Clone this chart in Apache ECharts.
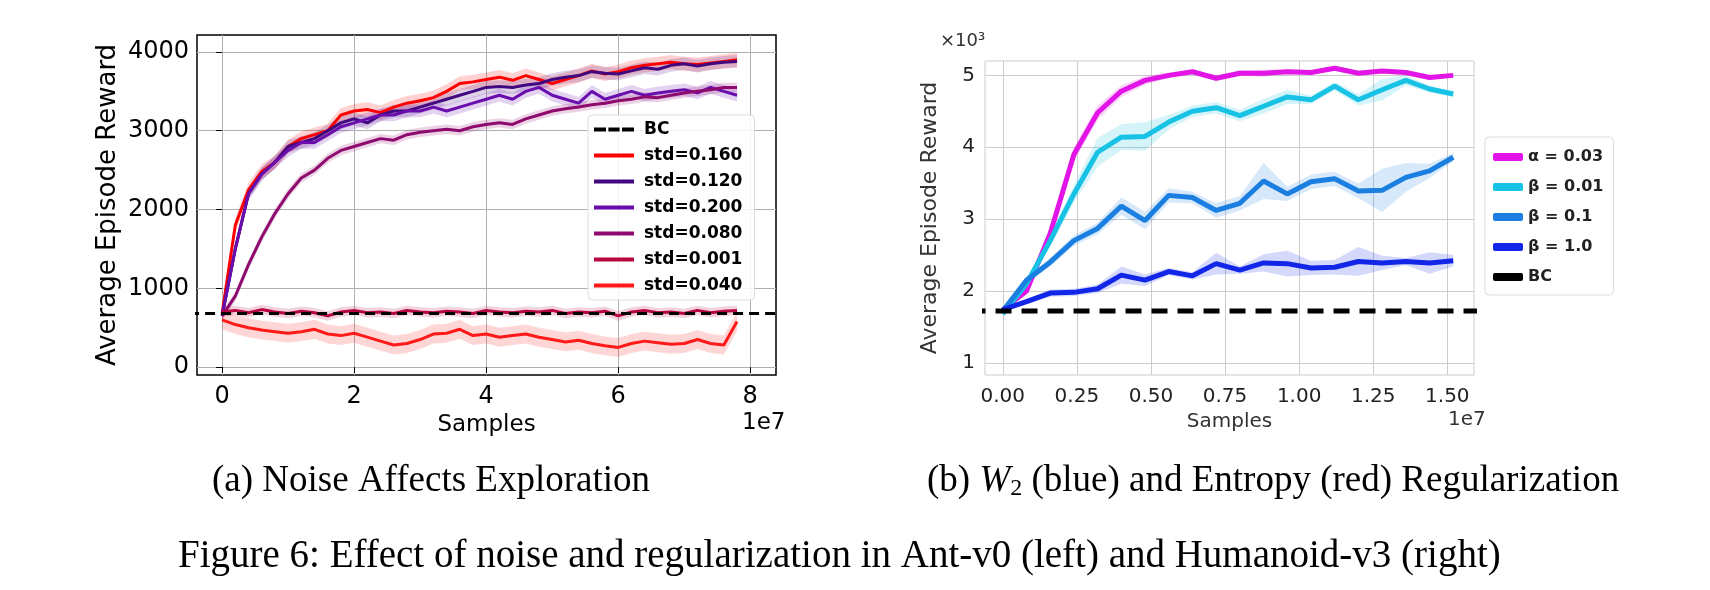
<!DOCTYPE html>
<html><head><meta charset="utf-8">
<script src="https://cdn.jsdelivr.net/npm/echarts@6/dist/echarts.min.js"></script>
<style>html,body{margin:0;padding:0;background:#fff}#c{width:1710px;height:590px}</style>
</head><body><div id="c"></div>
<script>
// ---- Left chart data (Ant-v0), x in units of 1e7, sampled every 0.2 ----
const leftStep = 0.2;
const leftNames = ['std=0.160','std=0.120','std=0.200','std=0.080','std=0.001','std=0.040'];
const leftColors = ['#ff0000','#42087f','#6a0dad','#8e0a6e','#b8063e','#ff1a1a'];
const std160 = [680,1800,2250,2480,2600,2800,2900,2950,3000,3200,3250,3270,3230,3300,3350,3380,3420,3500,3600,3620,3650,3680,3640,3700,3650,3600,3650,3700,3760,3720,3750,3800,3830,3850,3870,3850,3840,3860,3880,3900];
const std120 = [650,1500,2200,2450,2600,2800,2850,2900,3000,3100,3150,3100,3200,3250,3250,3300,3350,3400,3450,3500,3550,3560,3550,3580,3600,3650,3680,3700,3750,3730,3720,3760,3800,3780,3830,3850,3820,3850,3870,3880];
const std200 = [650,1500,2200,2450,2600,2750,2850,2850,2950,3050,3100,3150,3200,3200,3250,3250,3300,3250,3300,3350,3400,3450,3400,3500,3550,3450,3400,3350,3500,3400,3450,3500,3450,3480,3500,3520,3480,3550,3500,3450];
const std080 = [650,900,1300,1650,1950,2200,2400,2500,2650,2750,2800,2850,2900,2880,2950,2980,3000,3020,3000,3050,3080,3100,3080,3150,3200,3250,3280,3300,3330,3350,3380,3400,3430,3420,3450,3480,3500,3520,3550,3550];
const std001 = [700,720,690,730,700,680,710,690,650,700,720,690,700,680,720,700,690,710,700,680,720,700,690,710,700,720,680,700,690,710,650,700,720,690,700,680,720,690,710,720];
const std040 = [600,540,500,470,450,430,450,480,420,400,430,380,330,280,300,350,420,430,480,400,420,380,400,420,380,350,320,340,300,270,250,300,330,310,290,300,350,300,280,580];
const leftSpread = [90,80,80,60,60,120];
const leftBC = 680;
const leftYTicks = [0,1000,2000,3000,4000];
const leftXTicks = [0,2,4,6,8];

// ---- Right chart data (Humanoid-v3), x in units of 1e7 ----
const rightX = [0,0.08,0.16,0.24,0.32,0.40,0.48,0.56,0.64,0.72,0.80,0.88,0.96,1.04,1.12,1.20,1.28,1.36,1.44,1.52];
const rightNames = ['α = 0.03','β = 0.01','β = 0.1','β = 1.0'];
const rightColors = ['#e214e6','#18c2e4','#1a7fe0','#1226e8'];
const alpha003 = [1.74,2.0,2.8,3.9,4.48,4.78,4.93,5.0,5.05,4.96,5.03,5.03,5.05,5.04,5.1,5.03,5.06,5.04,4.97,5.0];
const beta001 = [1.68,2.1,2.7,3.35,3.93,4.14,4.15,4.35,4.5,4.55,4.44,4.57,4.7,4.66,4.85,4.66,4.8,4.93,4.81,4.74];
const beta01 = [1.72,2.15,2.4,2.7,2.87,3.18,2.98,3.33,3.3,3.12,3.22,3.53,3.35,3.52,3.56,3.39,3.40,3.58,3.67,3.86];
const beta10 = [1.74,1.85,1.97,1.98,2.03,2.22,2.15,2.27,2.21,2.38,2.29,2.39,2.38,2.32,2.33,2.41,2.39,2.41,2.39,2.42];
const spreadA = [0.02,0.05,0.08,0.1,0.1,0.08,0.06,0.04,0.03,0.04,0.04,0.05,0.03,0.03,0.03,0.03,0.03,0.03,0.03,0.02];
const spreadB1 = [0.03,0.05,0.08,0.12,0.2,0.18,0.2,0.1,0.08,0.08,0.08,0.1,0.1,0.06,0.06,0.08,0.15,0.07,0.05,0.04];
const spreadB2 = [0.03,0.05,0.06,0.07,0.08,0.12,0.12,0.1,0.08,0.1,0.1,0.25,0.1,0.1,0.1,0.1,0.3,0.2,0.1,0.06];
const spreadB3 = [0.03,0.04,0.05,0.05,0.06,0.12,0.08,0.05,0.05,0.15,0.05,0.12,0.18,0.1,0.1,0.2,0.1,0.05,0.15,0.08];
const rightBC = 1.72;
const rightYTicks = [1,2,3,4,5];
const rightXTicks = [0,0.25,0.5,0.75,1.0,1.25,1.5];

const leftVals = [std160,std120,std200,std080,std001,std040];
const rightVals = [alpha003,beta001,beta01,beta10];
const rightSpreads = [spreadA,spreadB1,spreadB2,spreadB3];

const series = [];
function addBand(xs, vals, spr, color, gi){
  const data = vals.map((v,i)=>{const s = Array.isArray(spr)?spr[i]:spr; return [xs[i], v - s, v + s];});
  series.push({type:'custom',xAxisIndex:gi,yAxisIndex:gi,data:data,silent:true,z:1,
    encode:{x:0,y:[1,2]},
    renderItem:function(params, api){
      if (params.dataIndex !== 0) return null;
      const up = data.map(d=>api.coord([d[0],d[2]]));
      const dn = data.map(d=>api.coord([d[0],d[1]])).reverse();
      return {type:'polygon',shape:{points:up.concat(dn)},style:{fill:color,opacity:0.18},
        clipPath:{type:'rect',shape:{x:params.coordSys.x,y:params.coordSys.y,width:params.coordSys.width,height:params.coordSys.height}}};
    }});
}
const lx = std160.map((_,i)=>+(i*leftStep).toFixed(2));
leftVals.forEach((v,k)=>addBand(lx, v, leftSpread[k], leftColors[k], 0));
rightVals.forEach((v,k)=>addBand(rightX, v, rightSpreads[k], rightColors[k], 1));

series.push({name:'BC',type:'line',xAxisIndex:0,yAxisIndex:0,data:[[-0.5,leftBC],[9,leftBC]],symbol:'none',lineStyle:{color:'#000',width:3,type:[10,6]},itemStyle:{color:'#000'},z:5});
leftVals.forEach((v,k)=>series.push({name:leftNames[k],type:'line',xAxisIndex:0,yAxisIndex:0,data:v.map((y,i)=>[lx[i],y]),symbol:'none',lineStyle:{color:leftColors[k],width:3},itemStyle:{color:leftColors[k]},z:3}));
rightVals.forEach((v,k)=>series.push({name:rightNames[k],type:'line',xAxisIndex:1,yAxisIndex:1,data:v.map((y,i)=>[rightX[i],y]),symbol:'none',lineStyle:{color:rightColors[k],width:5},itemStyle:{color:rightColors[k]},z:3}));
series.push({name:'BC ',type:'line',xAxisIndex:1,yAxisIndex:1,data:[[-0.2,rightBC],[1.7,rightBC]],symbol:'none',lineStyle:{color:'#000',width:5,type:[16,10]},itemStyle:{color:'#000'},z:5});

const F='DejaVu Sans';
const plain = v => String(v);
const chart = echarts.init(document.getElementById('c'));
const lineIcon = 'path://M0,0H10V1H0Z';
const dashIcon = 'path://M0,0H3V1H0ZM3.6,0H6.4V1H3.6ZM7,0H10V1H7Z';
const leftLegendData = [{name:'BC',icon:dashIcon}].concat(leftNames.map(n=>({name:n,icon:lineIcon})));
chart.setOption({
  animation:false,
  grid:[
    {left:197,top:35,width:579,height:340,show:true,borderColor:'#000',borderWidth:1.5,backgroundColor:'transparent'},
    {left:985,top:61,width:489,height:314,show:true,borderColor:'#ccc',borderWidth:1}
  ],
  xAxis:[
    {type:'value',gridIndex:0,min:-0.38,max:8.39,name:'Samples',nameLocation:'middle',nameGap:36,nameTextStyle:{fontFamily:F,fontSize:23,color:'#000'},
     axisLine:{show:false},axisTick:{show:true,customValues:leftXTicks,length:6,lineStyle:{color:'#000'}},
     axisLabel:{customValues:leftXTicks,fontFamily:F,fontSize:24,color:'#000',margin:10,formatter:plain},splitLine:{show:true,lineStyle:{color:'#b0b0b0'}}},
    {type:'value',gridIndex:1,min:-0.06,max:1.59,name:'Samples',nameLocation:'middle',nameGap:36,nameTextStyle:{fontFamily:F,fontSize:20,color:'#333'},
     axisLine:{show:false},axisTick:{show:false,customValues:rightXTicks},
     axisLabel:{customValues:rightXTicks,fontFamily:F,fontSize:20,color:'#222',margin:12,formatter:v=>v.toFixed(2)},splitLine:{show:true,lineStyle:{color:'#ccc'}}}
  ],
  yAxis:[
    {type:'value',gridIndex:0,min:-100,max:4215,name:'Average Episode Reward',nameLocation:'middle',nameGap:76,nameTextStyle:{fontFamily:F,fontSize:26,color:'#000'},
     axisLine:{show:false},axisTick:{show:true,customValues:leftYTicks,length:6,lineStyle:{color:'#000'}},
     axisLabel:{customValues:leftYTicks,fontFamily:F,fontSize:24,color:'#000',formatter:plain},splitLine:{show:true,lineStyle:{color:'#b0b0b0'}}},
    {type:'value',gridIndex:1,min:0.83,max:5.2,name:'Average Episode Reward',nameLocation:'middle',nameGap:44,nameTextStyle:{fontFamily:F,fontSize:22,color:'#333'},
     axisLine:{show:false},axisTick:{show:false,customValues:rightYTicks},
     axisLabel:{customValues:rightYTicks,fontFamily:F,fontSize:20,color:'#222',margin:10,formatter:plain},splitLine:{show:true,lineStyle:{color:'#ccc'}}}
  ],
  legend:[
    {data:leftLegendData,orient:'vertical',left:588,top:115,itemWidth:50,itemHeight:4,itemGap:9,
     textStyle:{fontFamily:F,fontWeight:'bold',fontSize:17,color:'#000'},backgroundColor:'rgba(255,255,255,0.85)',borderColor:'#ddd',borderWidth:1,borderRadius:4,padding:[6,12,6,6]},
    {data:rightNames.concat(['BC ']),orient:'vertical',left:1485,top:137,itemWidth:30,itemHeight:8,itemGap:14,
     textStyle:{fontFamily:F,fontWeight:'bold',fontSize:16,color:'#222'},borderColor:'#ddd',borderWidth:1,borderRadius:4,padding:[12,10,10,8],icon:'roundRect'}
  ],
  graphic:[
    {type:'text',left:742,top:412,style:{text:'1e7',font:'23px "DejaVu Sans"',fill:'#000'}},
    {type:'text',left:1448,top:410,style:{text:'1e7',font:'20px "DejaVu Sans"',fill:'#333'}},
    {type:'text',left:940,top:32,style:{text:'×10³',font:'18px "DejaVu Sans"',fill:'#333'}},
    {type:'text',left:212,top:463,style:{text:'(a) Noise Affects Exploration',font:'37px "Liberation Serif"',fill:'#000'}},
    {type:'text',left:927,top:463,style:{rich:{i:{font:'italic 37px "Liberation Serif"',fill:'#000'},s:{font:'24px "Liberation Serif"',fill:'#000',padding:[14,0,0,0]},n:{font:'37px "Liberation Serif"',fill:'#000'}},text:'{n|(b) }{i|W}{s|2}{n| (blue) and Entropy (red) Regularization}'}},
    {type:'text',left:178,top:537,style:{text:'Figure 6: Effect of noise and regularization in Ant-v0 (left) and Humanoid-v3 (right)',font:'39px "Liberation Serif"',fill:'#000'}}
  ],
  series:series
});
</script></body></html>
